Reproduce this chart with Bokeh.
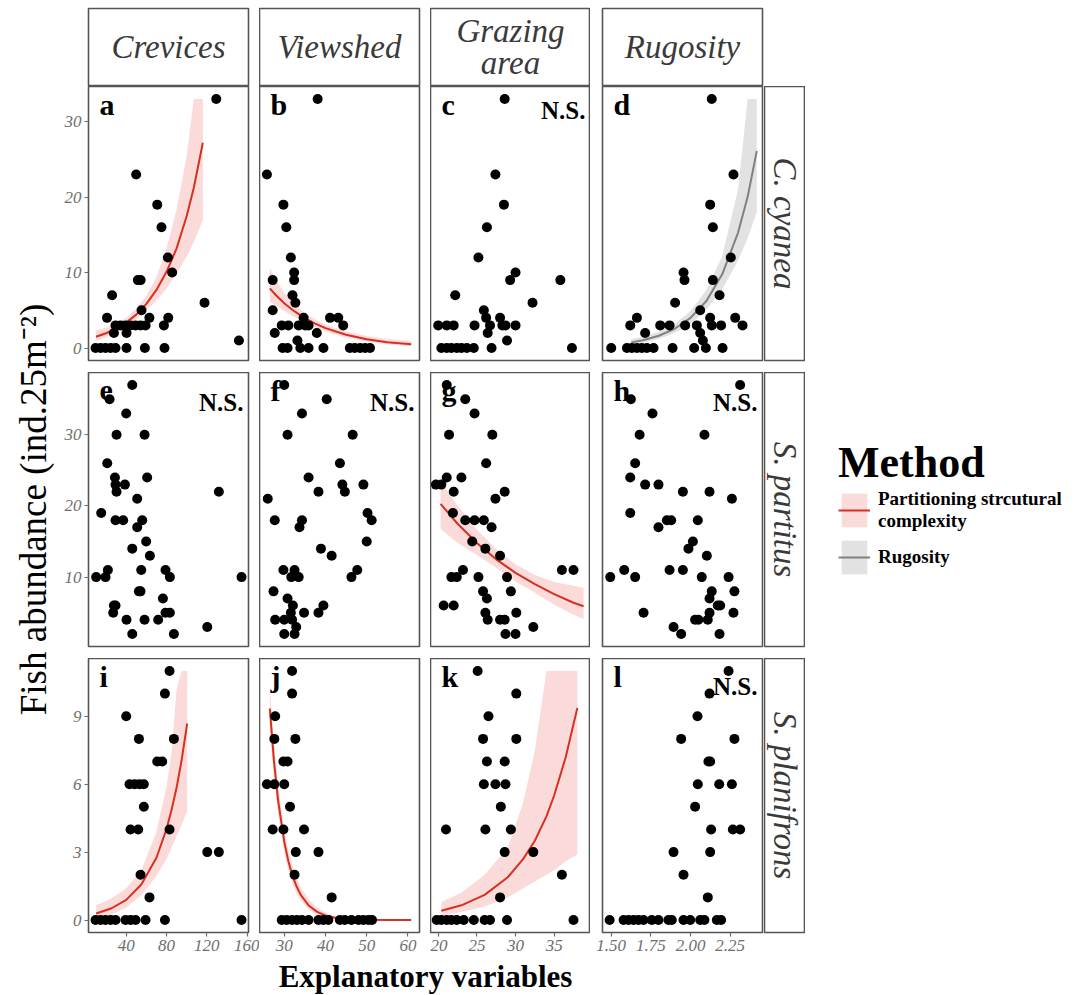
import math
from bokeh.plotting import figure
from bokeh.models import (Range1d, FixedTicker, NumeralTickFormatter, Label,
                          ColumnDataSource, Legend, LegendItem)
from bokeh.layouts import gridplot, row, column
from bokeh.embed import file_html
from bokeh.resources import INLINE

# ---------------------------------------------------------------- data
variables = ["Crevices", "Viewshed", "Grazing\narea", "Rugosity"]
species = ["C. cyanea", "S. partitus", "S. planifrons"]
panel_letters = [["a", "b", "c", "d"], ["e", "f", "g", "h"], ["i", "j", "k", "l"]]
not_significant = ["c", "e", "f", "h", "l"]

x_ticks_crevices = [40, 80, 120, 160]
x_ticks_viewshed = [30, 40, 50, 60]
x_ticks_grazing = [20, 25, 30, 35]
x_ticks_rugosity = [1.50, 1.75, 2.00, 2.25]
y_ticks_cyanea = [0, 10, 20, 30]
y_ticks_partitus = [10, 20, 30]
y_ticks_planifrons = [0, 3, 6, 9]

# (explanatory value, fish abundance)
pts_a = [(129.3, 33), (49.9, 23), (70.8, 19), (75.0, 16), (81.3, 12), (85.6, 10), (51.6, 9), (54.3, 9),
         (26.0, 7), (21.0, 4), (55.2, 5), (63.0, 4), (81.7, 4), (117.7, 6), (151.8, 1), (29.4, 3), (34.3, 3),
         (39.3, 3), (44.3, 3), (49.3, 3), (54.2, 3), (59.2, 3), (77.4, 3), (27.8, 2), (40.3, 2), (9.6, 0),
         (14.6, 0), (19.5, 0), (24.5, 0), (29.4, 0), (40.3, 0), (58.5, 0), (78.0, 0)]
pts_b = [(38.1, 33), (25.8, 23), (29.8, 19), (30.5, 16), (31.6, 12), (32.4, 10), (32.4, 9), (27.2, 9),
         (32.0, 7), (32.7, 6), (27.2, 5), (34.7, 4), (41.1, 4), (43.1, 4), (44.3, 3), (29.4, 3), (31.0, 3),
         (33.5, 3), (35.1, 3), (35.9, 3), (27.7, 2), (37.9, 2), (33.2, 1), (29.6, 0), (30.8, 0), (33.9, 0),
         (35.9, 0), (39.5, 0), (45.9, 0), (47.1, 0), (48.4, 0), (49.6, 0), (50.8, 0)]
pts_c = [(28.6, 33), (27.4, 23), (28.5, 19), (26.3, 16), (25.2, 12), (30.0, 10), (29.3, 9), (35.8, 9),
         (22.2, 7), (32.2, 6), (25.9, 5), (26.2, 4), (28.0, 4), (20.0, 3), (21.1, 3), (22.0, 3), (24.7, 3),
         (26.7, 3), (28.3, 3), (28.7, 3), (30.0, 3), (26.4, 2), (28.9, 1), (20.4, 0), (21.1, 0), (21.7, 0),
         (22.4, 0), (23.0, 0), (23.7, 0), (24.6, 0), (26.9, 0), (37.3, 0)]
pts_d = [(2.134, 33), (2.271, 23), (2.124, 19), (2.141, 16), (2.254, 12), (2.141, 9), (1.956, 10),
         (1.962, 9), (1.903, 6), (2.183, 7), (2.061, 5), (1.662, 4), (2.124, 4), (2.282, 4), (1.620, 3),
         (1.809, 3), (1.868, 3), (1.966, 3), (2.040, 3), (2.134, 3), (2.193, 3), (2.328, 3), (1.714, 2),
         (2.061, 2), (2.078, 1), (1.500, 0), (1.599, 0), (1.630, 0), (1.662, 0), (1.693, 0), (1.725, 0),
         (1.767, 0), (1.887, 0), (2.023, 0), (2.097, 0), (2.202, 0)]
pts_e = [(46.0, 37), (23.5, 35), (40.0, 33), (30.4, 30), (58.2, 30), (21.2, 26), (28.8, 24), (60.8, 24),
         (29.4, 23), (38.7, 23), (30.4, 22), (131.9, 22), (50.9, 21), (15.2, 19), (29.4, 18), (37.0, 18),
         (55.9, 18), (50.9, 17), (59.8, 15), (46.0, 14), (63.5, 13), (21.8, 11), (54.9, 11), (79.0, 11),
         (10.2, 10), (19.5, 10), (83.3, 10), (154.4, 10), (52.6, 8), (54.2, 8), (76.4, 7), (27.8, 6),
         (29.4, 6), (27.1, 5), (79.0, 5), (83.3, 5), (40.3, 4), (58.2, 4), (71.7, 4), (120.4, 3), (46.0, 2),
         (87.3, 2)]
pts_f = [(30.0, 37), (40.3, 35), (34.3, 33), (30.8, 30), (46.6, 30), (43.5, 26), (35.9, 24), (44.1, 23),
         (44.7, 22), (49.2, 23), (38.3, 22), (26.0, 21), (50.2, 19), (51.2, 18), (27.7, 18), (34.3, 18),
         (33.7, 17), (50.0, 15), (38.9, 14), (41.5, 13), (29.8, 11), (32.5, 11), (31.7, 10), (33.5, 10),
         (47.7, 11), (46.3, 10), (27.4, 8), (30.8, 7), (32.1, 6), (39.5, 6), (31.6, 5), (34.8, 5), (38.3, 5),
         (27.8, 4), (30.0, 4), (31.9, 4), (32.9, 3), (30.0, 2), (32.5, 2)]
pts_g = [(21.1, 37), (23.5, 35), (24.7, 33), (21.4, 30), (27.0, 30), (26.2, 26), (21.1, 24), (23.0, 24),
         (19.7, 23), (20.4, 23), (22.0, 22), (28.6, 22), (27.4, 21), (21.9, 19), (23.5, 18), (24.7, 18),
         (25.9, 18), (26.9, 17), (24.4, 15), (26.1, 14), (28.0, 13), (23.2, 11), (21.7, 10), (22.4, 10),
         (25.2, 10), (28.9, 10), (36.0, 11), (37.5, 11), (25.8, 8), (29.4, 8), (26.3, 7), (20.7, 6),
         (22.0, 6), (26.1, 5), (30.1, 5), (26.4, 4), (28.0, 4), (28.6, 4), (32.3, 3), (28.7, 2), (30.0, 2)]
pts_h = [(2.313, 37), (1.624, 35), (1.760, 33), (1.679, 30), (2.088, 30), (1.651, 26), (1.620, 24),
         (1.714, 23), (1.798, 23), (1.952, 22), (2.120, 22), (2.261, 21), (1.620, 19), (1.851, 18),
         (1.878, 18), (2.046, 18), (1.798, 17), (2.015, 15), (1.987, 14), (2.103, 13), (1.582, 11),
         (1.868, 11), (1.952, 11), (1.494, 10), (1.651, 10), (2.071, 10), (2.240, 10), (2.134, 8),
         (2.277, 8), (2.120, 7), (2.172, 6), (2.187, 6), (1.704, 5), (2.120, 5), (2.271, 5), (2.029, 4),
         (2.050, 4), (2.109, 4), (1.893, 3), (1.941, 2), (2.183, 2)]
pts_i = [(83.0, 11), (78.4, 10), (40.0, 9), (52.6, 8), (87.3, 8), (70.8, 7), (75.7, 7), (43.3, 6),
         (48.3, 6), (53.2, 6), (57.5, 6), (57.5, 5), (44.3, 4), (51.9, 4), (83.0, 4), (54.2, 2), (63.1, 1),
         (120.4, 3), (131.9, 3), (9.6, 0), (14.5, 0), (19.5, 0), (24.5, 0), (29.4, 0), (39.3, 0), (44.3, 0),
         (49.3, 0), (59.2, 0), (78.4, 0), (154.4, 0)]
pts_j = [(31.9, 11), (31.9, 10), (27.8, 9), (27.6, 8), (32.7, 8), (29.8, 7), (30.8, 7), (25.8, 6),
         (27.6, 6), (30.0, 6), (31.4, 5), (27.2, 4), (29.8, 4), (34.8, 4), (32.8, 3), (38.3, 3), (32.5, 2),
         (41.5, 1), (29.4, 0), (30.6, 0), (31.9, 0), (33.1, 0), (34.3, 0), (35.9, 0), (38.3, 0), (39.5, 0),
         (40.7, 0), (43.5, 0), (44.7, 0), (46.3, 0), (48.0, 0), (49.2, 0), (50.4, 0), (51.3, 0)]
pts_k = [(25.1, 11), (30.1, 10), (26.5, 9), (25.8, 8), (30.1, 8), (26.3, 7), (28.6, 7), (25.9, 6),
         (27.4, 6), (28.7, 6), (28.1, 5), (21.0, 4), (26.1, 4), (29.4, 4), (28.6, 3), (32.3, 3), (36.0, 2),
         (28.0, 1), (19.8, 0), (20.4, 0), (21.1, 0), (21.7, 0), (22.4, 0), (23.3, 0), (24.6, 0), (26.0, 0),
         (26.7, 0), (28.9, 0), (37.5, 0)]
pts_l = [(2.240, 11), (2.120, 10), (2.044, 9), (1.941, 8), (2.277, 8), (2.113, 7), (2.124, 7), (2.046, 6),
         (2.181, 6), (2.261, 6), (2.029, 5), (2.130, 4), (2.267, 4), (2.313, 4), (1.893, 3), (2.124, 3),
         (1.956, 2), (2.109, 1), (1.490, 0), (1.578, 0), (1.609, 0), (1.641, 0), (1.672, 0), (1.704, 0),
         (1.756, 0), (1.798, 0), (1.861, 0), (1.882, 0), (1.956, 0), (1.998, 0), (2.061, 0), (2.088, 0),
         (2.166, 0), (2.193, 0)]

# fitted curves with confidence band
fit_a_x = [10, 20, 30, 40, 50, 60, 70, 80, 90, 100, 107, 116]
fit_a_y = [1.49, 1.96, 2.56, 3.38, 4.43, 5.85, 7.7, 10.1, 13.2, 17.5, 21.2, 27.2]
fit_a_lo = [0.95, 1.42, 2.05, 2.84, 3.8, 5.0, 6.3, 7.9, 9.9, 12.1, 14.0, 16.9]
fit_a_hi = [2.34, 2.7, 3.2, 4.0, 5.2, 6.9, 9.4, 13.2, 18.4, 25.4, 33.0, 33.0]

fit_b_x = [26.5, 28, 30, 32.5, 35, 37.5, 40, 45, 50, 55, 60.8]
fit_b_y = [7.9, 7.0, 5.94, 4.85, 3.96, 3.24, 2.64, 1.76, 1.17, 0.78, 0.49]
fit_b_lo = [6.1, 5.6, 4.9, 4.1, 3.4, 2.8, 2.2, 1.4, 0.85, 0.5, 0.25]
fit_b_hi = [10.6, 9.0, 7.3, 5.8, 4.6, 3.8, 3.1, 2.2, 1.6, 1.2, 0.9]

fit_d_x = [1.626, 1.7, 1.8, 1.9, 2.0, 2.1, 2.2, 2.3, 2.36, 2.418]
fit_d_y = [0.75, 1.04, 1.63, 2.55, 3.99, 6.24, 9.77, 15.3, 20.0, 26.1]
fit_d_lo = [0.45, 0.7, 1.2, 2.0, 3.2, 5.1, 7.8, 11.6, 14.5, 18.0]
fit_d_hi = [1.2, 1.5, 2.2, 3.2, 4.9, 7.7, 12.2, 21.0, 33.0, 33.0]

fit_g_x = [20.3, 22.5, 25, 27.5, 30, 32.5, 35, 37.5, 38.8]
fit_g_y = [20.3, 17.5, 14.8, 12.5, 10.6, 9.0, 7.6, 6.4, 5.9]
fit_g_lo = [16.8, 14.8, 13.1, 11.3, 9.4, 7.8, 6.1, 4.7, 4.1]
fit_g_hi = [23.5, 20.0, 16.7, 13.9, 11.8, 10.3, 9.3, 8.8, 8.5]

fit_i_x = [10.2, 25, 40, 55, 70, 80, 85, 90, 95, 100.5]
fit_i_y = [0.29, 0.51, 0.89, 1.57, 2.75, 4.02, 4.87, 5.85, 7.07, 8.68]
fit_i_lo = [0.08, 0.22, 0.55, 1.1, 1.95, 2.7, 3.2, 3.7, 4.2, 4.8]
fit_i_hi = [0.65, 0.95, 1.4, 2.2, 3.9, 5.9, 7.4, 10.2, 11.0, 11.0]

fit_j_x = [26.5, 27.5, 28.5, 30, 31, 32, 33, 34, 36, 38, 40, 42, 44, 47, 50, 55, 60.8]
fit_j_y = [9.34, 7.03, 5.3, 3.46, 2.6, 1.96, 1.48, 1.11, 0.63, 0.36, 0.2, 0.115, 0.065, 0.028, 0.012, 0.003, 0.0]
fit_j_lo = [8.5, 6.3, 4.7, 3.0, 2.2, 1.6, 1.15, 0.85, 0.45, 0.22, 0.1, 0.05, 0.02, 0.005, 0.0, 0.0, 0.0]
fit_j_hi = [10.2, 7.9, 6.0, 4.0, 3.1, 2.4, 1.85, 1.45, 0.9, 0.55, 0.33, 0.2, 0.13, 0.07, 0.04, 0.02, 0.01]

fit_k_x = [20.4, 23, 26, 29, 31, 32.5, 34, 35, 36.5, 38]
fit_k_y = [0.41, 0.65, 1.11, 1.89, 2.7, 3.5, 4.58, 5.5, 7.2, 9.37]
fit_k_lo = [0.2, 0.35, 0.6, 1.0, 1.4, 1.7, 2.0, 2.2, 2.6, 2.9]
fit_k_hi = [0.8, 1.2, 2.0, 3.2, 5.2, 7.5, 11.0, 11.0, 11.0, 11.0]

# ---------------------------------------------------------------- style / layout
SERIF = "Liberation Serif"
RED = "#d7301f"
PINK = "#fbdada"
GRAY_LINE = "#808080"
GRAY_BAND = "#e2e2e2"
BORDER = "#555555"
TICK_COL = "#6e6e6e"

PAD = 8                    # page margin emulated inside the layout
FRAME_W = 160
FRAME_H = 274
STRIP_H = 77
RSTRIP_W = 41
YLAB_W = 56
XLAB_H = 34
LEG_W = 263
COL_BL = [32, 0, 0, 12]
COL_BR = [11, 11, 0, 2]
ROW_BB = [12, 12, 28]
X_RANGES = [(2.6, 161.3), (24.0, 62.8), (19.0, 39.7), (1.445, 2.454)]
Y_RANGES = [(-1.65, 34.65), (0.25, 38.75), (-0.55, 11.55)]
X_TICKS = [x_ticks_crevices, x_ticks_viewshed, x_ticks_grazing, x_ticks_rugosity]
Y_TICKS = [y_ticks_cyanea, y_ticks_partitus, y_ticks_planifrons]
LETTER_DROP = 18
NS_DROP = [24, 30, 28]

points = [[pts_a, pts_b, pts_c, pts_d], [pts_e, pts_f, pts_g, pts_h], [pts_i, pts_j, pts_k, pts_l]]
fits = {
    "a": (fit_a_x, fit_a_y, fit_a_lo, fit_a_hi, RED, PINK),
    "b": (fit_b_x, fit_b_y, fit_b_lo, fit_b_hi, RED, PINK),
    "d": (fit_d_x, fit_d_y, fit_d_lo, fit_d_hi, GRAY_LINE, GRAY_BAND),
    "g": (fit_g_x, fit_g_y, fit_g_lo, fit_g_hi, RED, PINK),
    "i": (fit_i_x, fit_i_y, fit_i_lo, fit_i_hi, RED, PINK),
    "j": (fit_j_x, fit_j_y, fit_j_lo, fit_j_hi, RED, PINK),
    "k": (fit_k_x, fit_k_y, fit_k_lo, fit_k_hi, RED, PINK),
}
fit_sources = {}


def style_axis(ax):
    ax.axis_line_color = None
    ax.major_tick_line_color = TICK_COL
    ax.major_tick_line_width = 1.2
    ax.major_tick_out = 4
    ax.major_tick_in = 0
    ax.minor_tick_line_color = None
    ax.major_label_standoff = 3
    ax.major_label_text_font = SERIF
    ax.major_label_text_font_style = "italic"
    ax.major_label_text_font_size = "17px"
    ax.major_label_text_color = TICK_COL


def make_panel(r, c):
    letter = panel_letters[r][c]
    p = figure(frame_width=FRAME_W, frame_height=FRAME_H,
               x_range=Range1d(*X_RANGES[c]), y_range=Range1d(*Y_RANGES[r]),
               x_axis_location="below" if r == 2 else None,
               y_axis_location="left" if c == 0 else None,
               min_border_left=COL_BL[c], min_border_right=COL_BR[c],
               min_border_top=0, min_border_bottom=ROW_BB[r],
               output_backend="svg", toolbar_location=None, tools="")
    p.grid.visible = False
    p.outline_line_color = BORDER
    p.outline_line_width = 1.6
    p.background_fill_color = "white"
    p.border_fill_color = "white"
    if r == 2:
        p.xaxis.ticker = FixedTicker(ticks=X_TICKS[c])
        if c == 3:
            p.xaxis.formatter = NumeralTickFormatter(format="0.00")
        style_axis(p.xaxis[0])
    if c == 0:
        p.yaxis.ticker = FixedTicker(ticks=Y_TICKS[r])
        style_axis(p.yaxis[0])
    if letter in fits:
        fx, fy, flo, fhi, lc, bc = fits[letter]
        src = ColumnDataSource(dict(x=fx, y=fy, lo=flo, hi=fhi))
        fit_sources[letter] = src
        p.varea(x="x", y1="lo", y2="hi", source=src, fill_color=bc, fill_alpha=1.0)
        p.line(x="x", y="y", source=src, line_color=lc, line_width=2)
    pts = points[r][c]
    psrc = ColumnDataSource(dict(x=[q[0] for q in pts], y=[q[1] for q in pts]))
    p.scatter(x="x", y="y", source=psrc, size=10, fill_color="black", line_color=None)
    p.add_layout(Label(x=X_RANGES[c][0], y=Y_RANGES[r][1], x_offset=11, y_offset=-LETTER_DROP,
                       text=letter, text_font=SERIF, text_font_style="bold",
                       text_font_size="30px", text_color="black", text_baseline="alphabetic"))
    if letter in not_significant:
        p.add_layout(Label(x=X_RANGES[c][1], y=Y_RANGES[r][1], x_offset=-5, y_offset=-NS_DROP[r],
                           text="N.S.", text_font=SERIF, text_font_style="bold",
                           text_font_size="25px", text_color="black", text_align="right",
                           text_baseline="alphabetic"))
    return p


def make_strip(text, fw, fh, bl, br, bt, bb, angle):
    s = figure(frame_width=fw, frame_height=fh, x_range=Range1d(0, 1), y_range=Range1d(0, 1),
               x_axis_location=None, y_axis_location=None,
               min_border_left=bl, min_border_right=br, min_border_top=bt, min_border_bottom=bb,
               output_backend="svg", toolbar_location=None, tools="")
    s.grid.visible = False
    s.outline_line_color = BORDER
    s.outline_line_width = 1.6
    s.add_layout(Label(x=0.5, y=0.5, text=text, text_align="center", text_baseline="middle",
                       angle=angle, text_font=SERIF, text_font_style="italic",
                       text_font_size="33px", text_color="#3a3a3a", text_line_height=0.88))
    return s


top_row = [make_strip(variables[c], FRAME_W, STRIP_H, COL_BL[c], COL_BR[c], PAD, 1, 0) for c in range(4)] + [None]
grid_rows = [top_row]
for r in range(3):
    cells = [make_panel(r, c) for c in range(4)]
    cells.append(make_strip(species[r], RSTRIP_W, FRAME_H, 0, 0, 0, ROW_BB[r], -math.pi / 2))
    grid_rows.append(cells)
grid = gridplot(grid_rows, toolbar_location=None)

GRID_W = sum(COL_BL) + sum(COL_BR) + 4 * FRAME_W + RSTRIP_W
TOTAL_H = PAD + STRIP_H + 1 + 3 * FRAME_H + sum(ROW_BB) + XLAB_H


def blank(w, h):
    f = figure(width=w, height=h, x_range=Range1d(0, w), y_range=Range1d(0, h),
               x_axis_location=None, y_axis_location=None, min_border=0,
               output_backend="svg", toolbar_location=None, tools="")
    f.grid.visible = False
    f.outline_line_color = None
    return f


# y axis title, centred on the panel block
ylab = blank(YLAB_W, TOTAL_H)
panels_mid = PAD + STRIP_H + 1 + (3 * FRAME_H + ROW_BB[0] + ROW_BB[1]) / 2
ylab.add_layout(Label(x=33, y=TOTAL_H - panels_mid, text="Fish abundance (ind.25m\u207b\u00b2)",
                      angle=math.pi / 2, text_align="center", text_baseline="middle",
                      text_font=SERIF, text_font_size="37px", text_color="black"))

# x axis title
xlab = blank(GRID_W, XLAB_H)
xlab.add_layout(Label(x=COL_BL[0] + (4 * FRAME_W + COL_BR[0] + COL_BR[1] + COL_BL[3] + COL_BR[2]) / 2,
                      y=XLAB_H / 2 + 1, text="Explanatory variables", text_align="center",
                      text_baseline="middle",
                      text_font=SERIF, text_font_style="bold", text_font_size="31px", text_color="black"))

# legend
leg = figure(width=LEG_W, height=TOTAL_H, x_range=Range1d(0, 1), y_range=Range1d(0, 1),
             x_axis_location=None, y_axis_location=None, min_border=0,
             output_backend="svg", toolbar_location=None, tools="")
leg.grid.visible = False
leg.outline_line_color = None
r1 = leg.varea(x="x", y1="lo", y2="hi", source=fit_sources["g"], fill_color=PINK, visible=False)
r2 = leg.line(x="x", y="y", source=fit_sources["g"], line_color=RED, line_width=2, visible=False)
r3 = leg.varea(x="x", y1="lo", y2="hi", source=fit_sources["d"], fill_color=GRAY_BAND, visible=False)
r4 = leg.line(x="x", y="y", source=fit_sources["d"], line_color=GRAY_LINE, line_width=2, visible=False)
legend = Legend(items=[LegendItem(label="Partitioning strcutural\ncomplexity", renderers=[r1, r2]),
                       LegendItem(label="Rugosity", renderers=[r3, r4])],
                title="Method", location=(33, TOTAL_H - 578),
                title_text_font=SERIF, title_text_font_style="bold", title_text_font_size="44px",
                title_text_color="black", title_standoff=0,
                label_text_font=SERIF, label_text_font_style="bold", label_text_font_size="19px",
                label_text_color="black", glyph_width=32, glyph_height=42, label_standoff=8,
                spacing=4, padding=0, margin=0, border_line_color=None, background_fill_alpha=0,
                inactive_fill_alpha=0)
leg.add_layout(legend)

layout = row(ylab, column(grid, xlab), leg)

with open("out.html", "w") as fh:
    fh.write(file_html(layout, INLINE))
